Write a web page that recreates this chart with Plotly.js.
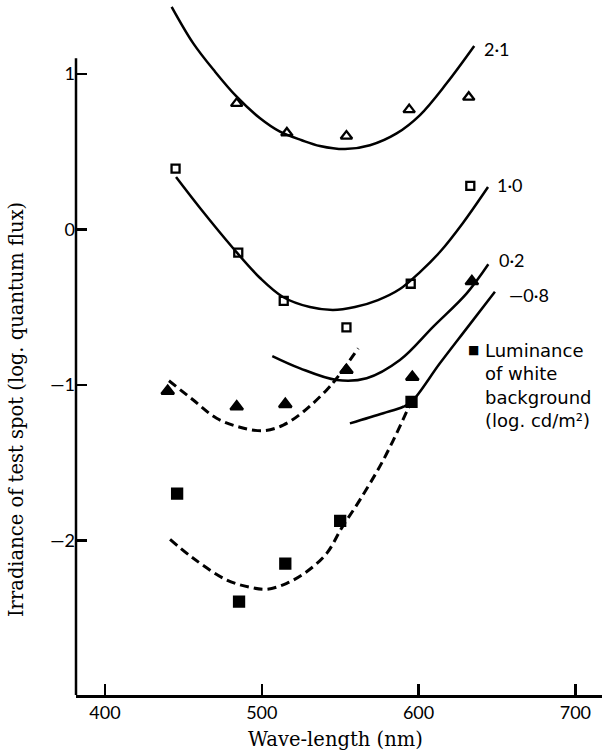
<!DOCTYPE html>
<html>
<head>
<meta charset="utf-8">
<script src="https://cdn.plot.ly/plotly-3.0.1.min.js"></script>
<style>html,body{margin:0;padding:0;background:#fff;}#chart{width:602px;height:752px;}</style>
</head>
<body>
<div id="chart"></div>
<script>
// ---- data ----
var xTicks = [400, 500, 600, 700];
var yTicks = [-2, -1, 0, 1];
var yTickText = ['\u20142', '\u20141', '0', '1'];

// observed points, grouped by background luminance (log cd/m2)
var tri21X = [484, 516, 554, 594, 632];
var tri21Y = [0.81, 0.62, 0.60, 0.77, 0.85];
var sq10X = [445, 485, 514, 554, 595, 633];
var sq10Y = [0.39, -0.15, -0.46, -0.63, -0.35, 0.28];
var tri02X = [440, 484, 515, 554, 596, 634];
var tri02Y = [-1.04, -1.14, -1.125, -0.905, -0.95, -0.335];
var sqM08X = [446, 485.5, 515, 550, 595.5];
var sqM08Y = [-1.70, -2.395, -2.15, -1.875, -1.11];

// fitted curves
var fit21X = [442.5, 456.3, 470.2, 484, 498.9, 511.6, 525.5, 537.1, 553.1, 569, 586, 600.9, 617.9, 635.5];
var fit21Y = [1.431, 1.196, 1.014, 0.853, 0.714, 0.628, 0.573, 0.536, 0.516, 0.541, 0.617, 0.735, 0.939, 1.179];
var fit10X = [445.3, 460.6, 481.6, 498.9, 513.5, 530.7, 545.4, 559.4, 574.1, 588.1, 600.9, 613.6, 628.3, 644.3];
var fit10Y = [0.336, 0.137, -0.12, -0.313, -0.435, -0.50, -0.519, -0.50, -0.455, -0.384, -0.275, -0.146, 0.041, 0.272];
var fit02X = [506.7, 524.4, 547.8, 566.9, 588.1, 609.4, 630.7, 644.5];
var fit02Y = [-0.815, -0.894, -0.969, -0.958, -0.841, -0.626, -0.412, -0.225];
var fitM08X = [556.2, 577.5, 590.2, 595.6, 613.6, 630.7, 648.7];
var fitM08Y = [-1.248, -1.183, -1.141, -1.109, -0.862, -0.637, -0.401];
var dash02X = [440.8, 456.3, 471.2, 486.1, 501.0, 513.7, 526.5, 541.4, 547.8, 561.5];
var dash02Y = [-0.974, -1.098, -1.215, -1.273, -1.295, -1.259, -1.173, -1.033, -0.958, -0.765];
var dashM08X = [441.5, 456.3, 477.6, 492.5, 503.1, 515.9, 528.6, 541.4, 551, 562.6, 577.5, 592.4, 596];
var dashM08Y = [-1.994, -2.116, -2.255, -2.302, -2.315, -2.277, -2.202, -2.084, -1.92, -1.74, -1.484, -1.173, -1.09];

var curveLabels = ['2\u00b71', '1\u00b70', '0\u00b72', '\u20140\u00b78'];
var labelX = [640.2, 648.7, 649.8, 656.2];
var labelY = [1.163, 0.285, -0.195, -0.422];

var keyText = 'Luminance<br>of white<br>background<br>(log. cd/m\u00b2)';

var SANS = 'Lato, "Open Sans", sans-serif';
var KEYSANS = '"DejaVu Sans", sans-serif';
var SERIF = '"DejaVu Serif", serif';

function solid(x, y) {
  return {x: x, y: y, mode: 'lines', line: {color: '#000', width: 2.5, shape: 'spline', smoothing: 1}, hoverinfo: 'skip', showlegend: false};
}
function dashed(x, y) {
  return {x: x, y: y, mode: 'lines', line: {color: '#000', width: 3, shape: 'spline', smoothing: 1, dash: '9px,5px'}, hoverinfo: 'skip', showlegend: false};
}
function pts(x, y, sym, size) {
  return {x: x, y: y, mode: 'markers', marker: {symbol: sym, size: size, color: '#000', line: {color: '#000', width: 2.3}}, showlegend: false};
}

var data = [
  solid(fit21X, fit21Y), solid(fit10X, fit10Y), solid(fit02X, fit02Y), solid(fitM08X, fitM08Y),
  dashed(dash02X, dash02Y), dashed(dashM08X, dashM08Y),
  pts(tri21X, tri21Y, 'triangle-up-open', 10),
  pts(sq10X, sq10Y, 'square-open', 8),
  pts(tri02X, tri02Y, 'triangle-up', 11),
  pts(sqM08X, sqM08Y, 'square', 10)
];

var annotations = [];
for (var i = 0; i < curveLabels.length; i++) {
  annotations.push({x: labelX[i], y: labelY[i], xref: 'x', yref: 'y', text: curveLabels[i], showarrow: false,
    xanchor: 'left', yanchor: 'middle', font: {family: SANS, size: 18, color: '#000'}});
}
annotations.push({x: 634.9, y: -0.776, xref: 'x', yref: 'y', text: '\u25a0', showarrow: false,
  xanchor: 'center', yanchor: 'middle', font: {family: '"DejaVu Sans", sans-serif', size: 12, color: '#000'}});
annotations.push({x: 641.3, y: -1.007, xref: 'x', yref: 'y', text: keyText,
  showarrow: false, xanchor: 'left', yanchor: 'middle', align: 'left', font: {family: KEYSANS, size: 18, color: '#000'}});
annotations.push({x: -0.114, y: 0.41, xref: 'paper', yref: 'paper', text: 'Irradiance of test spot (log. quantum flux)',
  textangle: -90, showarrow: false, xanchor: 'center', yanchor: 'middle', font: {family: SERIF, size: 19.5, color: '#000'}});
annotations.push({x: 0.4924, y: -0.0647, xref: 'paper', yref: 'paper', text: 'Wave-length (nm)',
  showarrow: false, xanchor: 'center', yanchor: 'middle', font: {family: SERIF, size: 19.5, color: '#000'}});

var layout = {
  width: 602, height: 752,
  margin: {l: 76, r: 0, t: 0, b: 57, pad: 0},
  paper_bgcolor: '#fff', plot_bgcolor: '#fff',
  showlegend: false,
  xaxis: {range: [381.5, 717], tickvals: xTicks, ticks: 'inside', ticklen: 11, tickwidth: 2.5, tickcolor: '#000',
    showline: true, linewidth: 2.5, linecolor: '#000', showgrid: false, zeroline: false,
    tickfont: {family: SANS, size: 18, color: '#000'}, fixedrange: true},
  yaxis: {range: [-2.995, 1.475], tickvals: yTicks, ticktext: yTickText, ticks: 'inside', ticklen: 11, tickwidth: 2.5,
    tickcolor: '#000', showline: false, showgrid: false, zeroline: false,
    tickfont: {family: SANS, size: 18, color: '#000'}, fixedrange: true},
  shapes: [{type: 'line', xref: 'paper', yref: 'y', x0: 0, x1: 0, y0: -2.995, y1: 1.1,
    line: {color: '#000', width: 2.5}, layer: 'above'}],
  annotations: annotations
};

Plotly.newPlot('chart', data, layout, {displayModeBar: false, staticPlot: true});
</script>
</body>
</html>
